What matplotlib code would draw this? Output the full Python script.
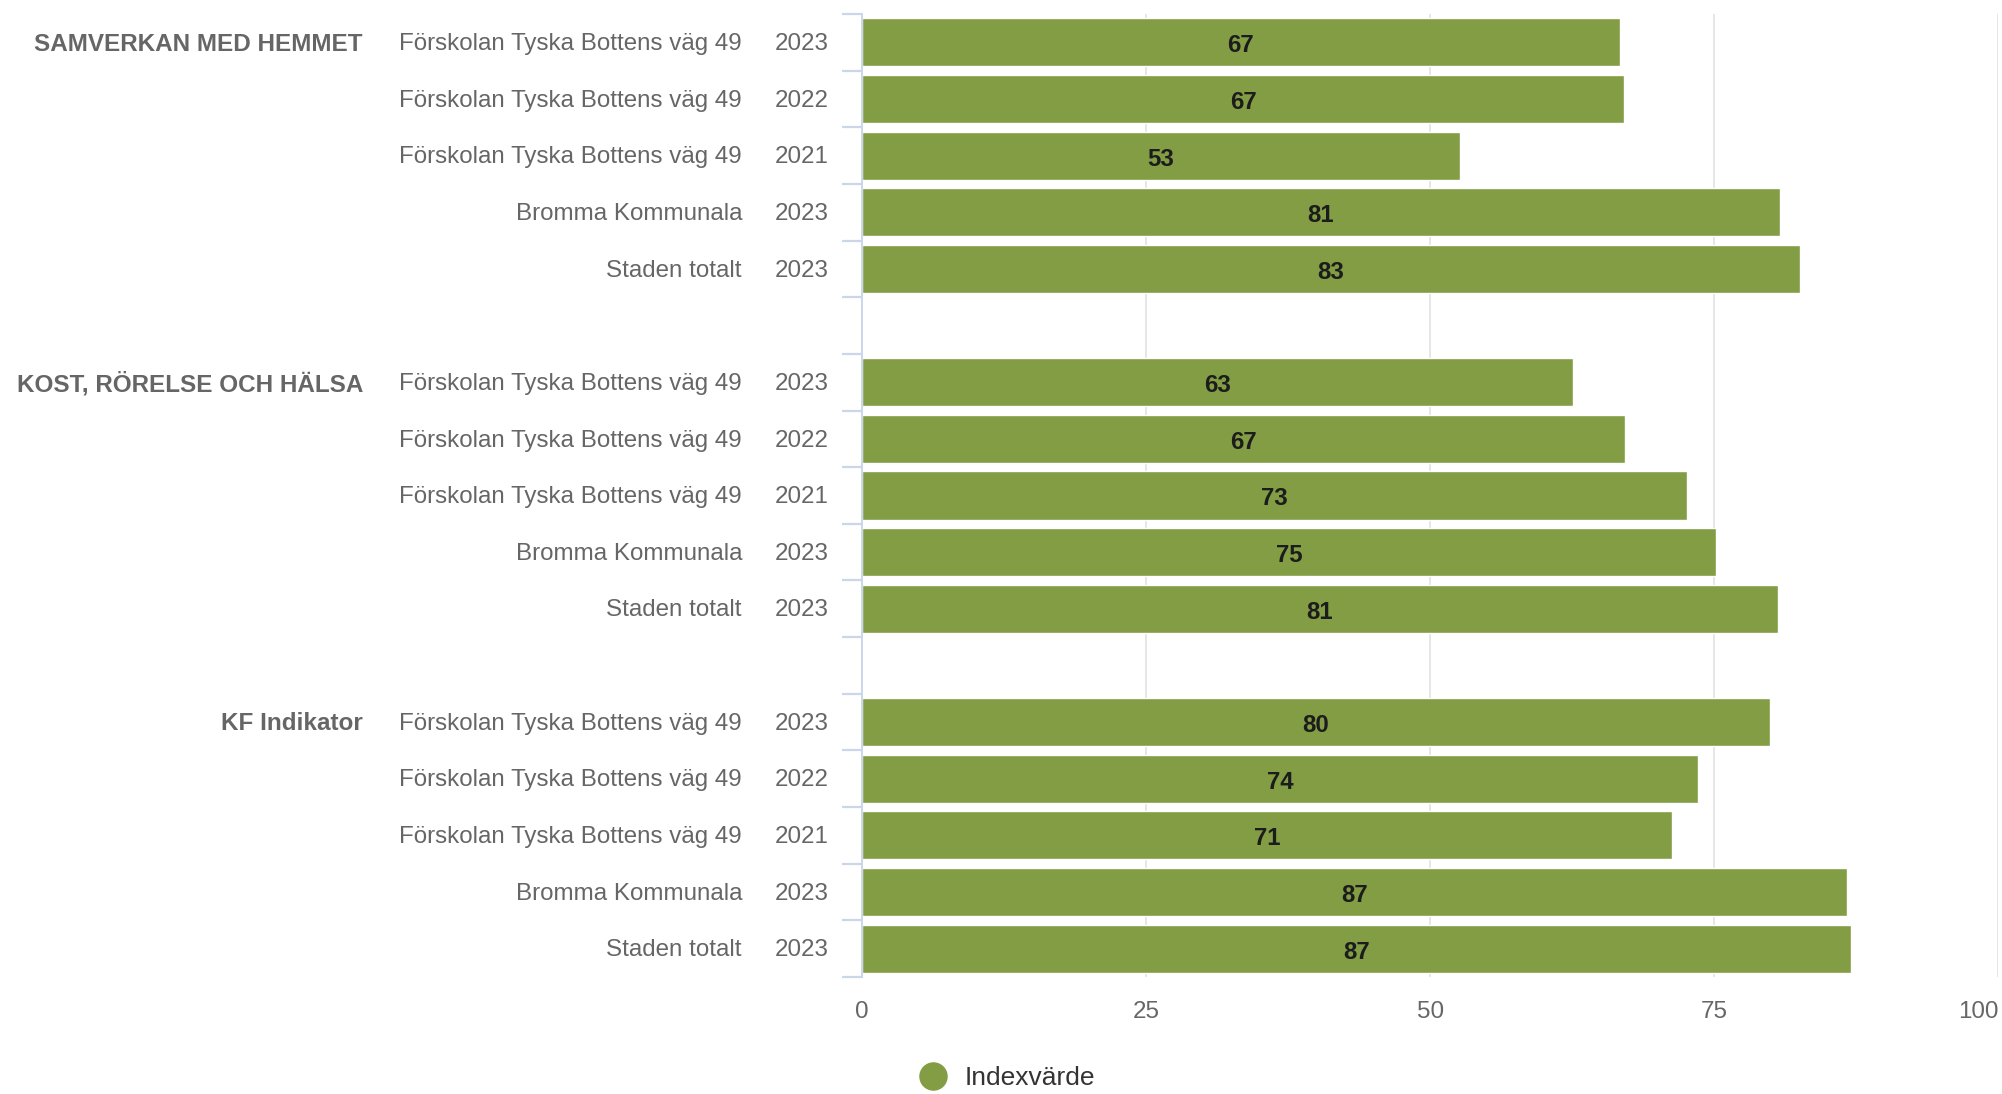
import matplotlib
matplotlib.use("Agg")
import matplotlib.pyplot as plt
import matplotlib.transforms as mtransforms
from matplotlib.lines import Line2D
import numpy as np

plt.rcParams['font.family'] = ['Liberation Sans', 'DejaVu Sans']

groups = ['SAMVERKAN MED HEMMET', 'KOST, RÖRELSE OCH HÄLSA', 'KF Indikator']
units = ['Förskolan Tyska Bottens väg 49', 'Förskolan Tyska Bottens väg 49',
         'Förskolan Tyska Bottens väg 49', 'Bromma Kommunala', 'Staden totalt']
years = ['2023', '2022', '2021', '2023', '2023']
values_samverkan = [66.7, 67.1, 52.6, 80.8, 82.6]
values_kost = [62.6, 67.2, 72.6, 75.2, 80.6]
values_kf = [79.9, 73.6, 71.3, 86.7, 87.1]
series_name = 'Indexvärde'
xticks = [0, 25, 50, 75, 100]

W, H = 2002, 1094
fig = plt.figure(figsize=(W / 100, H / 100), dpi=100)
ax = fig.add_axes([862 / W, 1 - 977 / H, (1998 - 862) / W, (977 - 14) / H])

bar_color = '#829d43'
all_vals = [values_samverkan, values_kost, values_kf]
n = len(units)
slots = len(groups) * (n + 1) - 1

ax.set_ylim(slots - 0.5, -0.5)
ax.set_xlim(0, 100)

trans = mtransforms.blended_transform_factory(fig.transFigure, ax.transData)
for g, vals in enumerate(all_vals):
    base = g * (n + 1)
    pos = np.arange(n) + base
    ax.barh(pos, vals, height=0.85, color=bar_color, edgecolor='white',
            linewidth=1, zorder=3)
    for p, v in zip(pos, vals):
        ax.text(v / 2, p + 0.06, f"{v:.0f}", ha='center', va='center',
                fontsize=17.3, fontweight='bold', color='#1c1c1c', zorder=4)
    for p, u, y in zip(pos, units, years):
        ax.text(742 / W, p + 0.03, u, transform=trans, ha='right', va='center',
                fontsize=17.4, color='#666666')
        ax.text(829 / W, p + 0.03, y, transform=trans, ha='right', va='center',
                fontsize=17.4, color='#666666')
    ax.text(363 / W, base + 0.03, groups[g], transform=trans, ha='right', va='center',
            fontsize=17.5, fontweight='bold', color='#666666')

# grid
for xv in xticks[1:]:
    ax.axvline(xv, color='#e6e6e6', linewidth=1.4, zorder=1)

for s in ['top', 'right', 'bottom']:
    ax.spines[s].set_visible(False)
ax.spines['left'].set_color('#ccd6eb')
ax.spines['left'].set_linewidth(1.4)
ax.spines['left'].set_zorder(5)

ax.set_yticks([])
ax.set_yticks(np.arange(-0.5, slots, 1.0), minor=True)
ax.tick_params(axis='y', which='minor', length=14.5, width=1.6, color='#ccd6eb',
               labelleft=False)

ax.set_xticks(xticks)
ax.set_xticklabels([str(t) for t in xticks])
ax.tick_params(axis='x', length=0, pad=17, labelsize=17.4, labelcolor='#666666')
lbls = ax.get_xticklabels()
lbls[-1].set_horizontalalignment('right')
lbls[-1].set_x(100)

handle = Line2D([], [], marker='o', linestyle='', color=bar_color, markersize=19.5)
fig.legend(handles=[handle], labels=[series_name], loc='center left',
           bbox_to_anchor=(920 / W, 1 - 1078 / H), frameon=False, borderpad=0,
           borderaxespad=0, handlelength=1.0, handletextpad=0.7, fontsize=19,
           labelcolor='#333333')

fig.savefig('out.png', dpi=100)
